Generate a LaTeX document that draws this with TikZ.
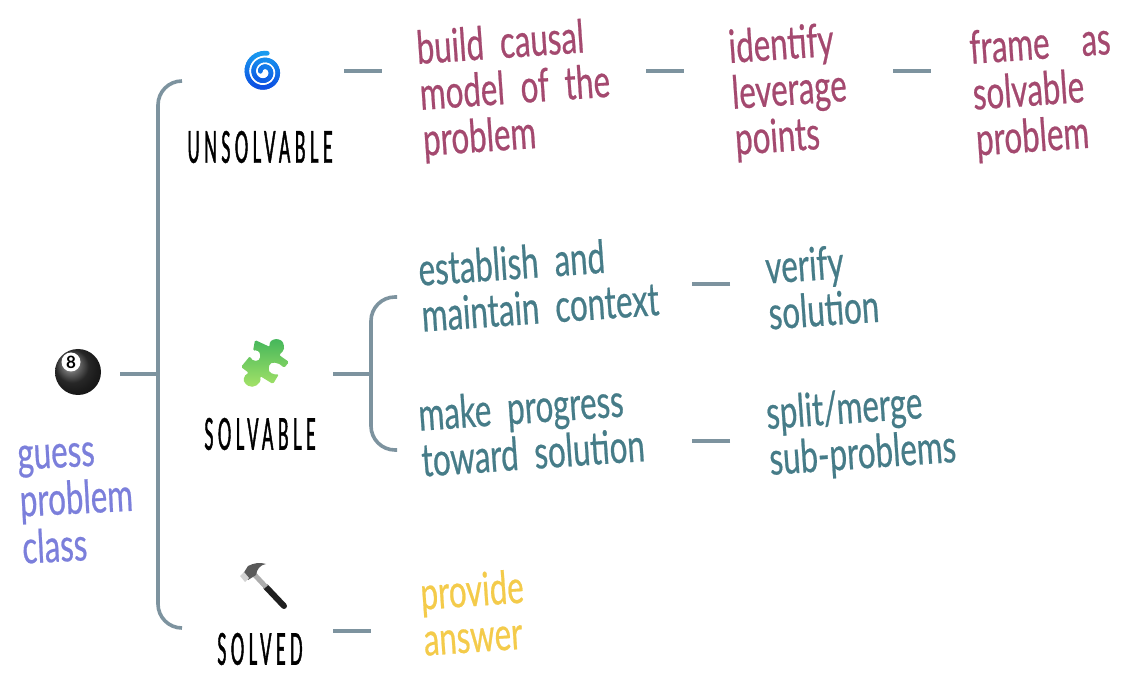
\documentclass[tikz,border=0pt]{standalone}
\usepackage{fontspec}
\usetikzlibrary{calc}
\setmainfont{Lato}
\newfontfamily\handfont[FakeStretch=0.68,FakeBold=0.5]{Lato}
\newfontfamily\capsfont[FakeStretch=0.38,LetterSpace=10,FakeBold=1]{Lato}
\definecolor{linegray}{HTML}{7D939F}
\definecolor{plum}{HTML}{A4496F}
\definecolor{teal2}{HTML}{467C88}
\definecolor{violet2}{HTML}{7B7FDB}
\definecolor{gold2}{HTML}{F4CB4A}
\definecolor{spiralA}{HTML}{1A9CF0}
\definecolor{spiralB}{HTML}{0B46E0}
\definecolor{puzzleA}{HTML}{3FB45A}
\definecolor{puzzleB}{HTML}{A8E468}
\tikzset{
  conn/.style={draw=linegray,line width=3.6pt},
  hand/.style={anchor=west,align=left,inner sep=0pt,outer sep=0pt,font=\handfont\fontsize{46}{46}\selectfont,rotate=4},
  plumtext/.style={hand,text=plum},
  tealtext/.style={hand,text=teal2},
  caplabel/.style={inner sep=0pt,font=\capsfont\fontsize{44}{44}\selectfont,text=black},
  icon/.style={inner sep=0pt,outer sep=0pt,minimum size=40pt,shape=circle},
}
\begin{document}
\begin{tikzpicture}[x=1pt,y=-1pt]
\useasboundingbox (0,0) rectangle (1144,692);
\fill[white] (0,0) rectangle (1144,692);

% icons (anchors)
\node[icon] (ball) at (78,372) {};
\node[icon] (spiral) at (263,71) {};
\node[icon] (puzzle) at (263,361) {};
\node[icon] (hammer) at (263,585) {};

% 8 ball
\shade[ball color=black!78] (ball) circle (23);
\fill[white] (71,362) circle (9.5);
\node[inner sep=0pt,font=\bfseries\fontsize{17}{17}\selectfont] (eight) at (71,362) {8};

% spiral
\foreach \i in {0,...,89}{
  \pgfmathsetmacro\ta{280-\i*9}
  \pgfmathsetmacro\tb{280-(\i+1)*9}
  \pgfmathsetmacro\ra{19-\i*0.17}
  \pgfmathsetmacro\rb{19-(\i+1)*0.17}
  \pgfmathsetmacro\mix{max(0,min(100,50-2.6*\ra*sin(\ta)))}
  \draw[line width=4.6pt,line cap=round,color=spiralA!\mix!spiralB]
    ($(264,72)+(\ta:\ra)$) -- ($(264,72)+(\tb:\rb)$);
}

% puzzle piece
\shade[top color=puzzleA,bottom color=puzzleB,shading angle=0,rounded corners=1.5pt]
  (241,367) -- (250,356) .. controls (252,362) and (260,362) .. (260,356)
  .. controls (260,351) and (256,350) .. (253,351) -- (255,340) -- (270,347)
  .. controls (268,338) and (283,336) .. (284,347) .. controls (284,351) and (281,353) .. (279,355)
  -- (289,362) -- (284,368) .. controls (279,362) and (270,361) .. (269,367)
  .. controls (268,373) and (274,375) .. (279,374) -- (273,384) -- (260,376)
  .. controls (262,384) and (253,389) .. (247,385) .. controls (242,381) and (244,375) .. (249,373) -- cycle;

% hammer
\draw[line width=6pt,line cap=round,color=black!88] (266,587) -- (284,606);
\draw[line width=5pt,color=gray!65] (252,572) -- (266,587);
\fill[gray!70!black] (243,574) -- (248,566) .. controls (254,563) and (260,562) .. (266,564)
  .. controls (260,565) and (257,569) .. (256,575) -- (248,580) -- cycle;
\fill[gray!35] (240,576) -- (244,572) -- (249,578) -- (245,582) -- cycle;

% category labels
\node[caplabel] (unsolvable) at (260,147) {UNSOLVABLE};
\node[caplabel] (solvable) at (260,434) {SOLVABLE};
\node[caplabel] (solved) at (260,649) {SOLVED};

% text
\node[hand,text=violet2,rotate=-1,font=\handfont\fontsize{46}{47}\selectfont] (guess) at (20,505) {guess\\problem\\class};
\node[plumtext] (build) at (420,97) {build\ \ causal\\model\ \ of\ \ the\\problem};
\node[plumtext] (identify) at (732,96) {identify\\leverage\\points};
\node[plumtext] (frame) at (973,97) {frame\ \ \ \ as\\solvable\\problem};
\node[tealtext] (establish) at (420,292) {establish\ \ and\\maintain\ \ context};
\node[tealtext] (verify) at (767,290) {verify\\solution};
\node[tealtext] (progress) at (420,437) {make\ \ progress\\toward\ \ solution};
\node[tealtext] (split) at (768,439) {split/merge\\sub-problems};
\node[hand,text=gold2] (provide) at (422,616) {provide\\answer};

% connectors
\draw[conn] ([xshift=22pt,yshift=-2pt]ball.east) -- ([xshift=60pt,yshift=-2pt]ball.east);
\draw[conn,rounded corners=24pt] ([xshift=-61pt,yshift=-10pt]spiral.west) -- ++(-24,0) -- ++(0,547) -- ++(24,0);
\draw[conn] ([xshift=61pt]spiral.east) -- ([xshift=-38pt]build.west |- spiral);
\draw[conn] ([xshift=226pt]build.west |- spiral) -- ([xshift=-48pt]identify.west |- spiral);
\draw[conn] ([xshift=161pt]identify.west |- spiral) -- ([xshift=-42pt]frame.west |- spiral);
\draw[conn] ([xshift=50pt,yshift=-13pt]puzzle.east) -- ([xshift=-49pt]establish.west |- 0,374);
\draw[conn,rounded corners=24pt] ([xshift=-23pt]establish.west |- 0,297) -- ++(-26,0) -- ++(0,153) -- ++(26,0);
\draw[conn] ([xshift=-37pt]verify.west |- 0,284) -- ([xshift=-75pt]verify.west |- 0,284);
\draw[conn] ([xshift=-38pt]split.west |- 0,441) -- ([xshift=-76pt]split.west |- 0,441);
\draw[conn] ([xshift=50pt,yshift=-46pt]hammer.east) -- ([xshift=-51pt]provide.west |- 0,631);
\end{tikzpicture}
\end{document}
